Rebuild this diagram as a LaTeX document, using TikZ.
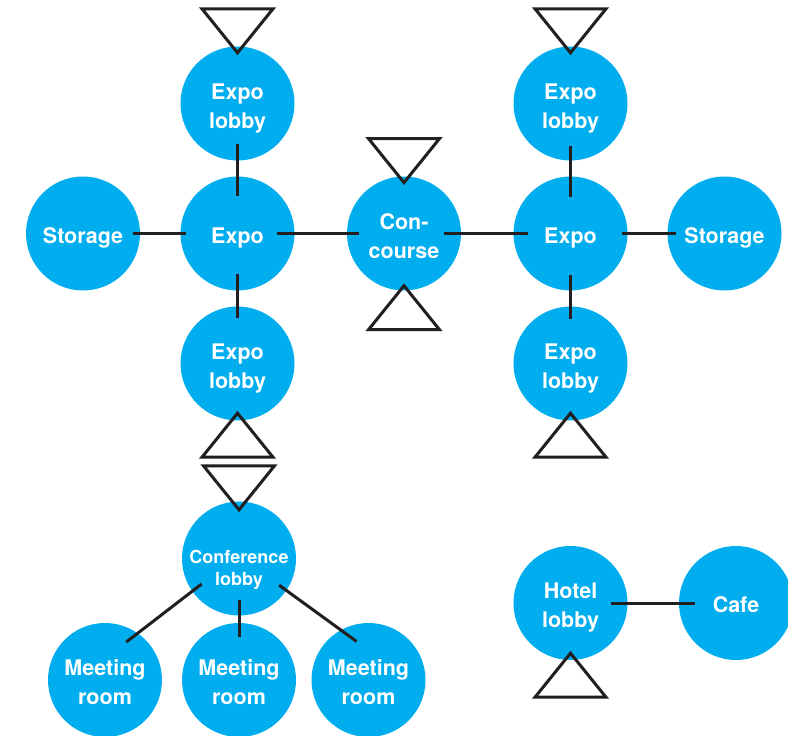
\documentclass[tikz,border=0pt]{standalone}
\usepackage{fontspec}
\setmainfont{TeX Gyre Heros}
\usetikzlibrary{calc}
\definecolor{roomblue}{RGB}{0,173,238}
\definecolor{linegray}{RGB}{35,31,32}
\newcommand\twolines[2]{\begin{tabular}[t]{@{}c@{}}#1\\#2\end{tabular}}
\begin{document}
\begin{tikzpicture}[x=1pt,y=-1pt,
  room/.style={circle, fill=roomblue, minimum size=114pt, inner sep=0pt, text=white,
    font=\bfseries\fontsize{21.5}{29}\selectfont, text height=19pt, text depth=0pt},
  tworoom/.style={room, text height=10pt, text depth=19pt},
  confroom/.style={room, font=\bfseries\fontsize{18}{22}\selectfont, text height=15pt, text depth=5pt},
  link/.style={draw=linegray, line width=3pt},
  tri/.style={draw=linegray, line width=3pt, line join=miter}]
\useasboundingbox (0,0) rectangle (788,736);

\node[tworoom] (lobTL) at (237.5,103.5) {\twolines{Expo}{lobby}};
\node[tworoom] (lobTR) at (570.5,103.5) {\twolines{Expo}{lobby}};
\node[room]    (stL)   at (83,233.5)    {Storage};
\node[room]    (expL)  at (237.5,233.5) {Expo};
\node[tworoom] (conc)  at (404,233.5)   {\twolines{Con-}{course}};
\node[room]    (expR)  at (570.5,233.5) {Expo};
\node[room]    (stR)   at (724.5,233.5) {Storage};
\node[tworoom] (lobBL) at (237.5,363.5) {\twolines{Expo}{lobby}};
\node[tworoom] (lobBR) at (570.5,363.5) {\twolines{Expo}{lobby}};
\node[confroom] (conf) at (239,558.5) {\twolines{Conference}{lobby}};
\node[tworoom] (m1) at (105,680)   {\twolines{Meeting}{room}};
\node[tworoom] (m2) at (239,680)   {\twolines{Meeting}{room}};
\node[tworoom] (m3) at (368.5,680) {\twolines{Meeting}{room}};
\node[tworoom] (hotel) at (570.5,603) {\twolines{Hotel}{lobby}};
\node[room]    (cafe)  at (736,603)   {Cafe};

\draw[link, shorten <=-17pt, shorten >=-20pt] (lobTL) -- (expL);
\draw[link, shorten <=-7pt,  shorten >=-6pt]  (stL) -- (expL);
\draw[link, shorten <=-18pt, shorten >=-12pt] (expL) -- (conc);
\draw[link, shorten <=-17pt, shorten >=-12pt] (expL) -- (lobBL);
\draw[link, shorten <=-17pt, shorten >=-15pt] (conc) -- (expR);
\draw[link, shorten <=-15pt, shorten >=-21pt] (lobTR) -- (expR);
\draw[link, shorten <=-6pt,  shorten >=-9pt]  (expR) -- (stR);
\draw[link, shorten <=-16pt, shorten >=-13pt] (expR) -- (lobBR);
\draw[link, shorten <=-12pt, shorten >=-14.5pt] (conf.215) -- (m1.55);
\draw[link, shorten <=-15.5pt, shorten >=-14pt] (conf.south) -- (m2.north);
\draw[link, shorten <=-9pt,  shorten >=-19.5pt] (conf.326) -- (m3.119.5);
\draw[link, shorten <=-17pt, shorten >=-16pt] (hotel) -- (cafe);

% entrance triangles pointing down into a room
\foreach \n/\d in {lobTL/6.5, lobTR/6.5, conc/6.3, conf/8.5}
  \draw[tri] ($(\n.north)+(0,\d)$) -- ++(-35.5,-44) -- ++(71,0) -- cycle;
% entrance triangles pointing up into a room
\foreach \n/\d in {conc/5, lobBL/7.5, lobBR/7.5, hotel/7}
  \draw[tri] ($(\n.south)+(0,-\d)$) -- ++(-35.5,44) -- ++(71,0) -- cycle;
\end{tikzpicture}
\end{document}
